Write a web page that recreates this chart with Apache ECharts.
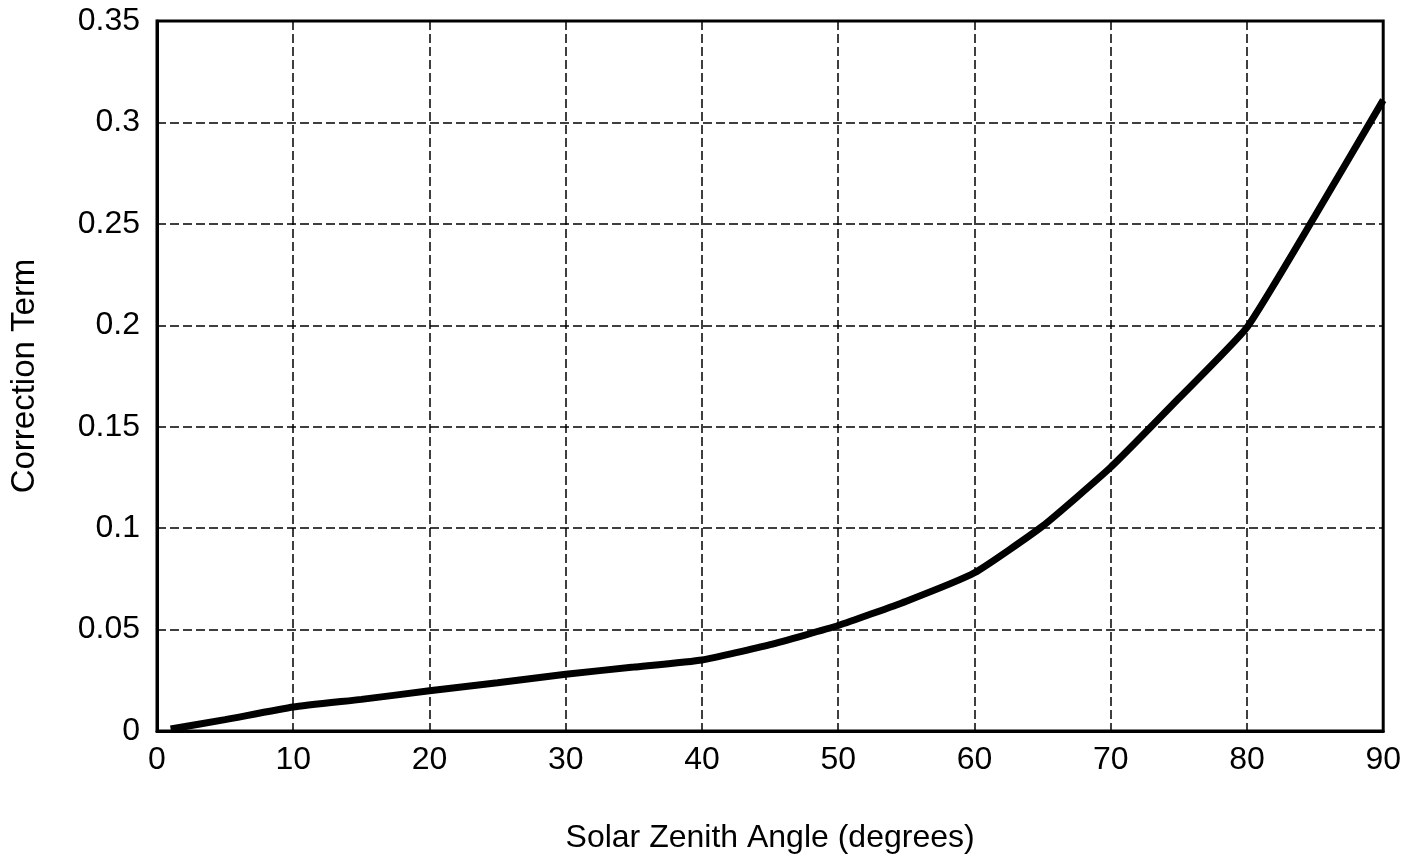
<!DOCTYPE html>
<html>
<head>
<meta charset="utf-8">
<script src="https://cdn.jsdelivr.net/npm/echarts@6/dist/echarts.min.js"></script>
<style>
  html, body { margin: 0; padding: 0; background: #fff; }
  #main { width: 1404px; height: 866px; }
</style>
</head>
<body>
<div id="main"></div>
<script>
// zenith angle (deg) and correction term
var angles = [1, 5, 10, 15, 20, 25, 30, 35, 40, 45, 50, 55, 60, 65, 70, 75, 80, 85, 90];
var correction = [0.001, 0.0056, 0.0118, 0.0156, 0.0198, 0.0238, 0.028, 0.0315, 0.035, 0.0426,
  0.052, 0.064, 0.078, 0.101, 0.13, 0.164, 0.199, 0.254, 0.311];
var xTicks = [0, 10, 20, 30, 40, 50, 60, 70, 80, 90];
var yTicks = ['0', '0.05', '0.1', '0.15', '0.2', '0.25', '0.3', '0.35'];

var font = "'Liberation Sans', Arial, Helvetica, sans-serif";

var chart = echarts.init(document.getElementById('main'), null, { renderer: 'canvas' });

var pts = [];
for (var i = 0; i < angles.length; i++) {
  pts.push([angles[i], correction[i]]);
}

var dashed = { color: '#000', width: 1.5, type: [9, 4] };

var option = {
  backgroundColor: '#fff',
  animation: false,
  grid: {
    left: 157,
    right: 19,
    top: 21,
    bottom: 135,
    show: true,
    borderColor: '#000',
    borderWidth: 3,
    backgroundColor: 'transparent'
  },
  xAxis: {
    type: 'value',
    min: xTicks[0],
    max: xTicks[xTicks.length - 1],
    interval: 10,
    name: 'Solar Zenith Angle (degrees)',
    nameLocation: 'middle',
    nameGap: 91,
    nameTextStyle: { color: '#000', fontSize: 32, fontFamily: font },
    axisLine: { show: true, lineStyle: { color: '#000', width: 3 } },
    axisTick: { show: false },
    axisLabel: { color: '#000', fontSize: 32, fontFamily: font, margin: 13 },
    splitLine: { show: true, lineStyle: dashed }
  },
  yAxis: {
    type: 'value',
    min: 0,
    max: 0.35,
    interval: 0.05,
    name: 'Correction Term',
    nameLocation: 'middle',
    nameGap: 116,
    nameRotate: 90,
    nameTextStyle: { color: '#000', fontSize: 33, fontFamily: font },
    axisLine: { show: true, lineStyle: { color: '#000', width: 3 } },
    axisTick: { show: false },
    axisLabel: {
      color: '#000', fontSize: 32, fontFamily: font, margin: 17,
      formatter: function (v) {
        return yTicks[Math.round(v / 0.05)];
      }
    },
    splitLine: { show: true, lineStyle: dashed }
  },
  series: [{
    type: 'line',
    data: pts,
    symbol: 'none',
    smooth: 0.15,
    lineStyle: { color: '#000', width: 7 },
    z: 5
  }]
};

chart.setOption(option);
</script>
</body>
</html>
